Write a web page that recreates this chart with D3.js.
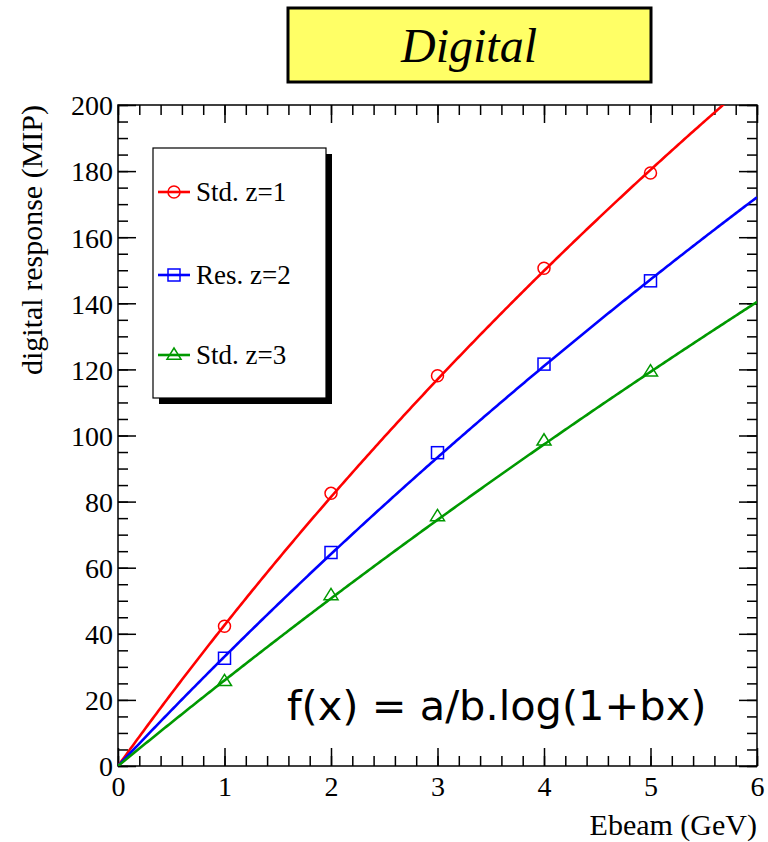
<!DOCTYPE html>
<html>
<head>
<meta charset="utf-8">
<script src="https://cdn.jsdelivr.net/npm/d3@7"></script>
<style>
  html, body { margin: 0; padding: 0; background: #fff; }
  svg { display: block; }
</style>
</head>
<body>
<svg id="chart" width="768" height="842"></svg>
<script>
// Beam energies (GeV) at which each configuration was measured
const energies = [1, 2, 3, 4, 5];

// Measured digital response (MIP) for each configuration
const seriesNames = ["Std. z=1", "Res. z=2", "Std. z=3"];
const seriesColors = ["#ff0000", "#0000ff", "#009900"];
const seriesMarkers = ["circle", "square", "triangle"];
const stdZ1 = [42.3, 82.5, 118.1, 150.6, 179.4];
const resZ2 = [32.6, 64.6, 94.8, 121.6, 146.8];
const stdZ3 = [25.6, 51.6, 75.5, 98.4, 119.3];

// Fit parameters of f(x) = a/b * log(1 + b x) for each configuration
const fitA = [44.8, 34.2, 26.5];
const fitB = [0.104, 0.068, 0.046];

// Axis tick values
const xTicks = [0, 1, 2, 3, 4, 5, 6];
const yTicks = [0, 20, 40, 60, 80, 100, 120, 140, 160, 180, 200];

const seriesValues = [stdZ1, resZ2, stdZ3];

const svg = d3.select("#chart");
const serif = "'Liberation Serif', 'Times New Roman', serif";

const plotLeft = 118, plotRight = 757, plotTop = 105, plotBottom = 766;
const x = d3.scaleLinear().domain([0, 6]).range([plotLeft, plotRight]);
const y = d3.scaleLinear().domain([0, 200]).range([plotBottom, plotTop]);

// Title box
svg.append("rect")
  .attr("x", 288).attr("y", 8).attr("width", 363).attr("height", 74)
  .attr("fill", "#ffff66").attr("stroke", "#000").attr("stroke-width", 3);
svg.append("text")
  .attr("x", 469).attr("y", 62)
  .attr("text-anchor", "middle")
  .attr("font-family", serif).attr("font-style", "italic")
  .attr("font-size", 48)
  .text("Digital");

// Frame
svg.append("rect")
  .attr("x", plotLeft).attr("y", plotTop)
  .attr("width", plotRight - plotLeft).attr("height", plotBottom - plotTop)
  .attr("fill", "none").attr("stroke", "#000").attr("stroke-width", 1.5);

// Axes: ticks point inward, mirrored on the opposite sides
const xMinor = d3.range(0, 6.0001, 0.2);
const yMinor = d3.range(0, 200.0001, 5);

const gx = svg.append("g").attr("transform", `translate(0,${plotBottom})`)
  .call(d3.axisBottom(x).tickValues(xTicks).tickSize(-18).tickPadding(20)
    .tickFormat(d3.format("d")));
const gxMinor = svg.append("g").attr("transform", `translate(0,${plotBottom})`)
  .call(d3.axisBottom(x).tickValues(xMinor).tickSize(-10).tickFormat(""));
const gxTop = svg.append("g").attr("transform", `translate(0,${plotTop})`)
  .call(d3.axisTop(x).tickValues(xTicks).tickSize(-18).tickFormat(""));
const gxTopMinor = svg.append("g").attr("transform", `translate(0,${plotTop})`)
  .call(d3.axisTop(x).tickValues(xMinor).tickSize(-10).tickFormat(""));

const gy = svg.append("g").attr("transform", `translate(${plotLeft},0)`)
  .call(d3.axisLeft(y).tickValues(yTicks).tickSize(-18).tickPadding(5)
    .tickFormat(d3.format("d")));
const gyMinor = svg.append("g").attr("transform", `translate(${plotLeft},0)`)
  .call(d3.axisLeft(y).tickValues(yMinor).tickSize(-10).tickFormat(""));
const gyRight = svg.append("g").attr("transform", `translate(${plotRight},0)`)
  .call(d3.axisRight(y).tickValues(yTicks).tickSize(-18).tickFormat(""));
const gyRightMinor = svg.append("g").attr("transform", `translate(${plotRight},0)`)
  .call(d3.axisRight(y).tickValues(yMinor).tickSize(-10).tickFormat(""));

[gx, gxMinor, gxTop, gxTopMinor, gy, gyMinor, gyRight, gyRightMinor].forEach(g => {
  g.select(".domain").remove();
  g.selectAll("line").attr("stroke", "#000").attr("stroke-width", 1.5);
  g.selectAll("text").attr("font-family", serif).attr("font-size", 28).attr("fill", "#000");
});
gy.selectAll("text").attr("dy", "0.35em");
gx.selectAll("text").attr("dy", "0.35em");

// Axis titles
svg.append("text")
  .attr("x", plotRight).attr("y", 835)
  .attr("text-anchor", "end")
  .attr("font-family", serif).attr("font-size", 30)
  .text("Ebeam (GeV)");
svg.append("text")
  .attr("transform", `translate(42,${plotTop}) rotate(-90)`)
  .attr("text-anchor", "end")
  .attr("font-family", serif).attr("font-size", 30)
  .text("digital response (MIP)");

// Fit curves, clipped to the frame
svg.append("clipPath").attr("id", "plotClip")
  .append("rect").attr("x", plotLeft).attr("y", plotTop)
  .attr("width", plotRight - plotLeft).attr("height", plotBottom - plotTop);

const fitX = d3.range(0, 6.0001, 0.02);
const line = d3.line().x(d => x(d[0])).y(d => y(d[1]));
seriesNames.forEach((name, i) => {
  const pts = fitX.map(v => [v, fitA[i] / fitB[i] * Math.log(1 + fitB[i] * v)]);
  svg.append("path")
    .attr("clip-path", "url(#plotClip)")
    .attr("d", line(pts))
    .attr("fill", "none")
    .attr("stroke", seriesColors[i])
    .attr("stroke-width", 2.6);
});

// Marker drawing
function drawMarker(g, kind, cx, cy, color) {
  if (kind === "circle") {
    g.append("circle").attr("cx", cx).attr("cy", cy).attr("r", 6)
      .attr("fill", "none").attr("stroke", color).attr("stroke-width", 1.5);
  } else if (kind === "square") {
    g.append("rect").attr("x", cx - 6).attr("y", cy - 6)
      .attr("width", 12).attr("height", 12)
      .attr("fill", "none").attr("stroke", color).attr("stroke-width", 1.5);
  } else {
    const s = 7;
    g.append("path")
      .attr("d", `M${cx - s},${cy + s * 0.6} L${cx + s},${cy + s * 0.6} L${cx},${cy - s} Z`)
      .attr("fill", "none").attr("stroke", color).attr("stroke-width", 1.5);
  }
}

const markers = svg.append("g");
seriesValues.forEach((vals, i) => {
  vals.forEach((v, j) => {
    drawMarker(markers, seriesMarkers[i], x(energies[j]), y(v), seriesColors[i]);
  });
});

// Legend with drop shadow
const lg = svg.append("g");
lg.append("rect").attr("x", 159).attr("y", 154).attr("width", 173).attr("height", 250).attr("fill", "#000");
lg.append("rect").attr("x", 153).attr("y", 148).attr("width", 173).attr("height", 250)
  .attr("fill", "#fff").attr("stroke", "#000").attr("stroke-width", 1.2);
const legendY = [192, 275, 355];
seriesNames.forEach((name, i) => {
  const ly = legendY[i];
  lg.append("line").attr("x1", 158).attr("x2", 190).attr("y1", ly).attr("y2", ly)
    .attr("stroke", seriesColors[i]).attr("stroke-width", 2.6);
  drawMarker(lg, seriesMarkers[i], 174, ly, seriesColors[i]);
  lg.append("text").attr("x", 196).attr("y", ly).attr("dy", "0.35em")
    .attr("font-family", serif).attr("font-size", 27)
    .text(name);
});

// Fit function label
svg.append("text")
  .attr("x", 287).attr("y", 720)
  .attr("font-family", "'DejaVu Sans', sans-serif").attr("font-size", 41.5)
  .text("f(x) = a/b.log(1+bx)");
</script>
</body>
</html>
